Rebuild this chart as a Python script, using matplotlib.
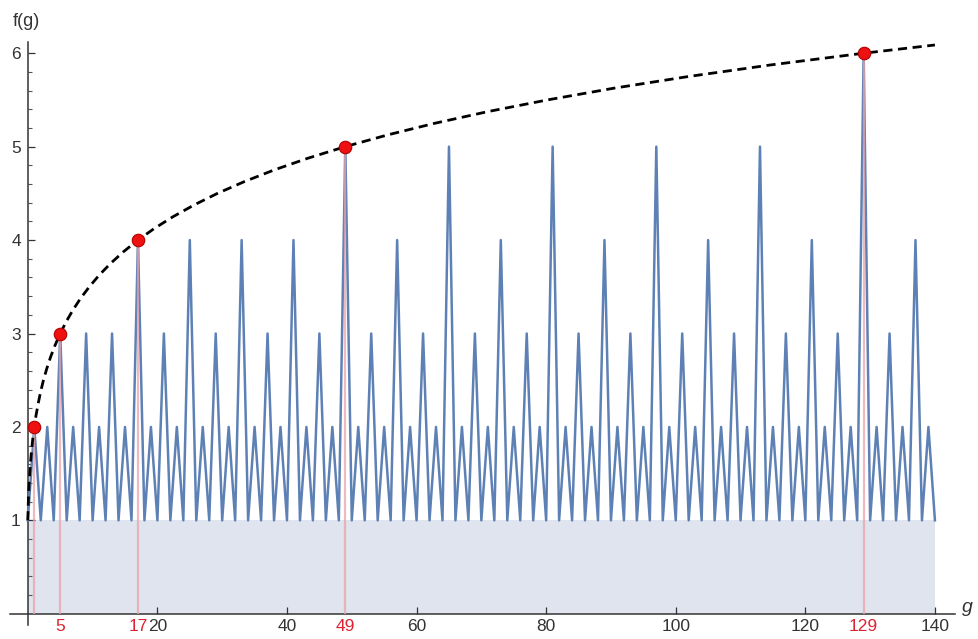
import numpy as np
import matplotlib
matplotlib.use("Agg")
import matplotlib.pyplot as plt

# peak value of f at each odd g = 1, 3, 5, ..., 139 (f is 1 at every even g)
peak_g = list(range(1, 140, 2))
peak_f = [2, 2, 3, 2, 3, 2, 3, 2, 4, 2, 3, 2, 4, 2, 3, 2, 4, 2, 3, 2,
          4, 2, 3, 2, 5, 2, 3, 2, 4, 2, 3, 2, 5, 2, 3, 2, 4, 2, 3, 2,
          5, 2, 3, 2, 4, 2, 3, 2, 5, 2, 3, 2, 4, 2, 3, 2, 5, 2, 3, 2,
          4, 2, 3, 2, 6, 2, 3, 2, 4, 2]
trough_g = list(range(0, 141, 2))
trough_f = 1

# record points (new maxima)
rec_g = [1, 5, 17, 49, 129]
rec_f = [2, 3, 4, 5, 6]

# dashed envelope
env_g = [0, 0.046, 0.108, 0.19, 0.293, 0.422, 0.58, 0.771, 1.0, 1.27, 1.6,
         1.97, 2.41, 2.93, 3.52, 4.21, 5.0, 5.91, 6.95, 8.13, 9.49, 11.02,
         12.77, 14.76, 17.0, 19.54, 22.41, 25.64, 29.28, 33.39, 38.0, 43.18,
         49.0, 55.5, 62.8, 71.0, 80.2, 90.4, 101.9, 114.7, 129.0, 140.0]
env_f = [1.0, 1.125, 1.25, 1.375, 1.5, 1.625, 1.75, 1.875, 2.0, 2.125, 2.25,
         2.375, 2.5, 2.625, 2.75, 2.875, 3.0, 3.125, 3.25, 3.375, 3.5, 3.625,
         3.75, 3.875, 4.0, 4.125, 4.25, 4.375, 4.5, 4.625, 4.75, 4.875,
         5.0, 5.125, 5.25, 5.375, 5.5, 5.625, 5.75, 5.875, 6.0, 6.088]

x_major = [20, 40, 60, 80, 100, 120, 140]

# interleave troughs and peaks
g = np.arange(0, 141)
f = np.full(len(g), float(trough_f))
f[peak_g] = peak_f

plt.rcParams['font.family'] = ['Liberation Sans', 'DejaVu Sans']

fig = plt.figure(figsize=(9.79, 6.39), dpi=100)
ax = fig.add_axes([10 / 979, 14 / 639, 945 / 979, 583 / 639])
ax.set_xlim(-2.75, 143.1)
ax.set_ylim(-0.12, 6.12)

ax.fill_between([0, 140], 0, 1, color='#dfe4ee', lw=0, zorder=1)
ax.plot(g, f, color='#5e81b5', lw=1.8, zorder=3)
ax.vlines(rec_g, 0, rec_f, color='#e9a3ab', lw=1.6, alpha=0.75, zorder=4)
ax.plot(env_g, env_f, color='black', lw=2, dashes=(3.3, 2), zorder=5)
ax.plot(rec_g, rec_f, 'o', color='#ee1111', mec='#b00000', mew=0.8, ms=9, zorder=6)

for s in ['top', 'right']:
    ax.spines[s].set_visible(False)
ax.spines['left'].set_position(('data', 0))
ax.spines['bottom'].set_position(('data', 0))
for s in ['left', 'bottom']:
    ax.spines[s].set_color('#333333')
    ax.spines[s].set_linewidth(1.1)

ax.set_xticks(x_major)
ax.set_xticklabels([str(v) for v in x_major])
ax.set_xticks(rec_g[1:], minor=True)
ax.set_xticklabels([str(v) for v in rec_g[1:]], minor=True)
ax.tick_params(axis='x', which='major', direction='in', length=5, width=0.9,
               color='#333333', labelsize=12.5, labelcolor='#333333', pad=4)
ax.tick_params(axis='x', which='minor', direction='in', length=0, labelsize=12.5,
               labelcolor='#dd2233', pad=4)

ax.set_yticks([1, 2, 3, 4, 5, 6])
ax.set_yticks(np.arange(0.2, 6.1, 0.2), minor=True)
ax.tick_params(axis='y', which='major', direction='in', length=5, width=0.9,
               color='#333333', labelsize=12.5, labelcolor='#333333', pad=5)
ax.tick_params(axis='y', which='minor', direction='in', length=3, width=0.8,
               color='#555555')

fig.text(13 / 979, 1 - 22 / 639, 'f(g)', fontsize=13, color='#333333', va='center')
fig.text(962 / 979, 1 - 607 / 639, 'g', fontsize=14, style='italic', color='#333333', va='center')

fig.savefig('out.png', dpi=100)
